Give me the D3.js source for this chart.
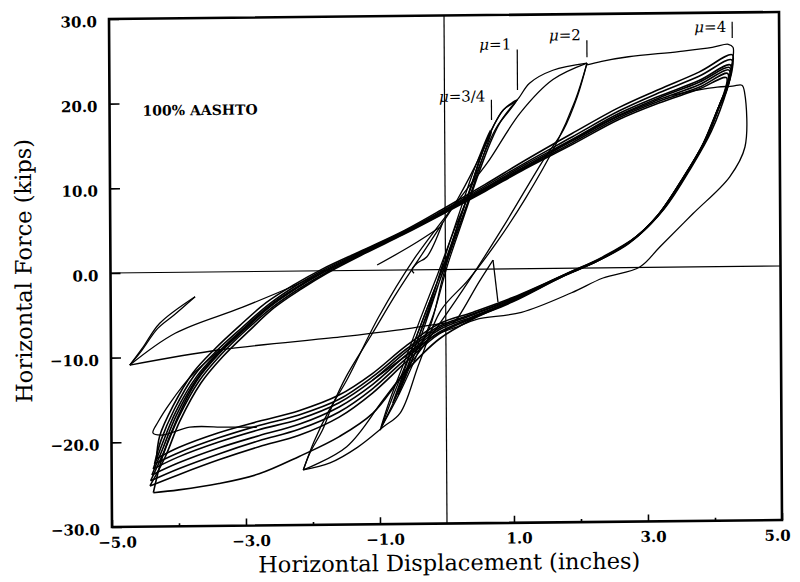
<!DOCTYPE html>
<html><head><meta charset="utf-8">
<script src="https://cdn.jsdelivr.net/npm/d3@7"></script>
<style>body{margin:0;background:#fff}svg{display:block}</style>
</head><body>
<svg id="chart" width="800" height="582"></svg>
<script>
// ---- axis / tick data ----
const xMajorTicks = [-5, -3, -1, 1, 3, 5];
const xTickLabels = ["\u22125.0", "\u22123.0", "\u22121.0", "1.0", "3.0", "5.0"];
const xMinorTicks = [-4, -2, 2, 4];
const yTicks = [30, 20, 10, 0, -10, -20, -30];
const yTickLabels = ["30.0", "20.0", "10.0", "0.0", "\u221210.0", "\u221220.0", "\u221230.0"];

// ---- ductility markers ----
const muNames = ["3/4", "1", "2", "4"];
const muX = [0.70, 1.09, 2.13, 4.30];
const muTop = [20.0, 25.9, 26.9, 28.9];
const muBottom = [17.6, 21.1, 24.9, 27.0];
const muLabelY = [20.4, 26.5, 27.5, 28.3];

// ---- main mu=4 cycles (displacement, force) ----
const loop1 = [[-4.33,-22.0],[-4.28,-19.3],[-4.08,-15.8],[-3.78,-11.9],[-3.45,-9.1],[-3.08,-6.4],[-2.68,-3.7],[-2.26,-1.6],[-1.84,0.2],[-1.2,2.5],[-0.6,4.7],[0,7.3],[0.6,10.0],[1.2,12.8],[1.9,15.9],[2.6,18.9],[3.2,21.0],[3.8,23.0],[4.30,25.0],[4.28,23.0],[4.22,21.0],[3.98,16.0],[3.68,11.8],[3.27,6.9],[2.86,3.7],[2.35,1.3],[1.85,-0.5],[1.0,-3.4],[0.4,-5.1],[-0.1,-6.4],[-0.6,-9.0],[-1.1,-12.2],[-1.6,-14.7],[-2.2,-16.5],[-2.8,-17.7],[-3.4,-19.0],[-4.0,-20.7],[-4.33,-22.0]];
const loop2 = [[-4.36,-22.6],[-4.26,-19.8],[-4.06,-16.2],[-3.76,-12.2],[-3.42,-9.3],[-3.04,-6.6],[-2.64,-3.9],[-2.23,-1.7],[-1.82,0.1],[-1.2,2.4],[-0.6,4.6],[0,7.1],[0.6,9.8],[1.2,12.5],[1.9,15.5],[2.6,18.5],[3.2,20.6],[3.8,22.5],[4.29,24.4],[4.24,21.5],[4.14,19.8],[3.92,15.3],[3.63,11.3],[3.23,6.6],[2.83,3.5],[2.32,1.1],[1.82,-0.6],[1.0,-3.5],[0.4,-5.3],[-0.1,-6.7],[-0.6,-9.4],[-1.1,-12.6],[-1.6,-15.2],[-2.2,-17.0],[-2.8,-18.2],[-3.4,-19.6],[-4.0,-21.3],[-4.36,-22.6]];
const loop3 = [[-4.38,-23.2],[-4.24,-20.2],[-4.04,-16.5],[-3.73,-12.4],[-3.4,-9.5],[-3.02,-6.7],[-2.62,-4.0],[-2.2,-1.8],[-1.8,0.0],[-1.2,2.3],[-0.6,4.5],[0,7.0],[0.6,9.6],[1.2,12.3],[1.9,15.2],[2.6,18.2],[3.2,20.2],[3.8,22.0],[4.27,23.8],[4.22,21.2],[4.12,19.4],[3.9,15.0],[3.6,11.0],[3.2,6.3],[2.8,3.3],[2.3,1.0],[1.8,-0.7],[1.0,-3.6],[0.4,-5.4],[-0.1,-6.9],[-0.6,-9.7],[-1.1,-13.0],[-1.6,-15.6],[-2.2,-17.5],[-2.8,-18.7],[-3.4,-20.1],[-4.0,-21.8],[-4.38,-23.2]];
const loop4 = [[-4.40,-23.9],[-4.23,-20.7],[-4.03,-16.9],[-3.72,-12.6],[-3.39,-9.6],[-3.01,-6.8],[-2.61,-4.1],[-2.2,-1.9],[-1.8,-0.1],[-1.2,2.2],[-0.6,4.4],[0,6.9],[0.6,9.5],[1.2,12.1],[1.9,15.0],[2.6,17.9],[3.2,19.8],[3.8,21.5],[4.25,23.2],[4.2,20.8],[4.1,19.0],[3.87,14.7],[3.57,10.7],[3.17,6.1],[2.77,3.1],[2.28,0.9],[1.78,-0.8],[1.0,-3.7],[0.4,-5.6],[-0.1,-7.1],[-0.6,-10.1],[-1.1,-13.5],[-1.6,-16.1],[-2.2,-18.1],[-2.8,-19.4],[-3.4,-20.8],[-4.0,-22.5],[-4.40,-23.9]];
const loop5 = [[-4.42,-24.6],[-4.22,-21.2],[-4.0,-17.2],[-3.69,-12.9],[-3.36,-9.8],[-2.98,-6.9],[-2.58,-4.2],[-2.17,-2.0],[-1.78,-0.2],[-1.2,2.1],[-0.62,4.3],[0,6.8],[0.6,9.3],[1.2,11.9],[1.9,14.8],[2.6,17.7],[3.2,19.6],[3.8,21.2],[4.23,22.8],[4.18,20.5],[4.08,18.6],[3.85,14.4],[3.55,10.5],[3.15,5.9],[2.75,3.0],[2.26,0.8],[1.76,-0.9],[1.0,-3.8],[0.4,-5.7],[-0.1,-7.4],[-0.6,-10.5],[-1.1,-14.0],[-1.6,-16.7],[-2.2,-18.7],[-2.8,-20.0],[-3.4,-21.5],[-4.0,-23.2],[-4.42,-24.6]];
const loop6 = [[-4.43,-25.2],[-4.2,-21.8],[-3.98,-17.6],[-3.66,-13.1],[-3.33,-10.0],[-2.95,-7.1],[-2.56,-4.3],[-2.15,-2.1],[-1.77,-0.3],[-1.2,2.0],[-0.62,4.2],[0,6.7],[0.6,9.2],[1.2,11.8],[1.9,14.6],[2.6,17.5],[3.2,19.4],[3.8,21.0],[4.21,22.3],[4.16,20.2],[4.06,18.3],[3.83,14.1],[3.53,10.2],[3.13,5.7],[2.73,2.8],[2.24,0.7],[1.74,-1.0],[1.0,-3.9],[0.4,-5.8],[-0.1,-7.6],[-0.6,-10.9],[-1.1,-14.5],[-1.6,-17.3],[-2.2,-19.4],[-2.8,-20.7],[-3.4,-22.2],[-4.0,-23.9],[-4.43,-25.2]];
const loop7 = [[-4.38,-26.0],[-4.25,-22.0],[-4.02,-17.3],[-3.72,-12.8],[-3.39,-9.7],[-3.01,-6.9],[-2.62,-4.1],[-2.2,-1.9],[-1.81,-0.1],[-1.2,2.2],[-0.6,4.4],[0,6.9],[0.6,9.4],[1.2,12.0],[1.9,15.1],[2.6,18.0],[3.2,20.0],[3.8,21.8],[4.26,23.5],[4.22,21.0],[4.12,19.2],[3.88,14.8],[3.58,10.8],[3.18,6.2],[2.78,3.2],[2.29,0.9],[1.79,-0.8],[1.0,-3.8],[0.4,-5.9],[-0.1,-8.2],[-0.6,-12.0],[-1.1,-16.9],[-1.6,-19.6],[-2.2,-21.9],[-2.8,-23.9],[-3.4,-25.0],[-4.0,-25.7],[-4.38,-26.0]];

// ---- first excursion to mu=4 and outer paths ----
const firstMu4 = [[2.13,24.0],[2.35,24.4],[2.75,24.9],[3.5,25.45],[4.0,25.9],[4.24,26.25],[4.31,25.9],[4.31,24.7],[4.28,23.5]];
const outerRight = [[3.4,20.3],[3.8,20.9],[4.07,21.2],[4.3,21.3],[4.44,21.4],[4.48,20.5],[4.48,14.1],[4.25,10.6],[3.7,6.3],[3.2,2.4],[2.9,0.06],[2.35,-1.2],[1.88,-2.9],[1.13,-5.15],[0.45,-5.95],[0.17,-6.8],[-0.15,-7.7],[-0.5,-9.6],[-1.1,-13.0]];
const outerLowLeft = [[-3.37,-9.2],[-3.82,-12.4],[-4.12,-15.4],[-4.3,-17.6],[-4.38,-18.95],[-4.23,-19.2],[-3.83,-18.3],[-3.3,-18.35],[-2.83,-18.4]];
const tipUpper = [[-1.8,0.0],[-2.07,-1.07],[-3.03,-4.2],[-4.04,-7.2],[-4.72,-10.9]];
const tipLower = [[-4.72,-10.9],[-3.37,-9.2],[-1.57,-7.84],[-0.73,-7.1],[0.0,-6.3]];
const needleUp = [[-4.72,-10.9],[-4.52,-8.8],[-4.27,-6.0],[-3.74,-2.9]];
const needleDown = [[-3.74,-2.9],[-4.05,-5.0],[-4.3,-6.6],[-4.55,-9.3],[-4.72,-10.9]];

// ---- mu=2 cycles ----
const mu2UnloadA = [[2.13,24.2],[1.98,20.2],[1.77,16.3],[1.47,12.8],[0.86,4.9],[0.26,-2.4],[-0.24,-8.0],[-0.94,-15.3],[-1.49,-20.8],[-2.14,-23.5]];
const mu2UnloadB = [[2.13,24.2],[1.95,19.8],[1.65,14.5],[1.2,8.3],[0.79,3.4],[0.34,-1.26],[-0.07,-4.8],[-0.4,-11.0],[-0.69,-16.9],[-0.94,-18.5],[-1.33,-20.9],[-1.74,-22.7],[-2.14,-23.5]];
const mu2ReloadA = [[-2.14,-23.5],[-2.04,-21.5],[-1.85,-18.8],[-1.71,-16.1],[-1.49,-12.5],[-1.1,-7.5],[-0.73,-2.7],[-0.08,5.0],[0.18,8.2],[0.57,14.05],[0.73,16.9],[0.88,18.8],[1.08,19.9],[1.27,21.9],[1.62,23.4],[2.13,24.2]];
const mu2ReloadB = [[-2.14,-23.5],[-1.98,-20.2],[-1.75,-16.5],[-1.48,-12.9],[-1.0,-5.5],[-0.48,1.16],[0.28,9.0],[0.63,12.5],[1.13,18.4],[1.62,22.3],[2.13,24.2]];

// ---- mu=1 and mu=3/4 cycles ----
const mu1A = [[-0.99,-18.9],[-0.85,-15.5],[-0.62,-10.8],[-0.38,-5.8],[-0.12,-0.6],[0.12,4.4],[0.35,8.8],[0.53,13.2],[0.73,16.9],[0.88,18.8],[1.08,19.9],[0.78,16.8],[0.63,14.4],[0.43,10.5],[0.2,5.5],[-0.04,-0.9],[-0.24,-6.8],[-0.49,-10.3],[-0.75,-15.0],[-0.99,-18.9]];
const mu1B = [[-0.97,-18.5],[-0.8,-15.0],[-0.56,-10.3],[-0.3,-5.0],[-0.05,0.0],[0.2,5.0],[0.42,9.6],[0.62,13.8],[0.82,17.2],[1.08,19.9],[0.85,17.6],[0.68,14.9],[0.5,11.2],[0.27,6.0],[0.03,0.5],[-0.18,-5.2],[-0.42,-9.8],[-0.7,-14.6],[-0.97,-18.5]];
const mu34A = [[-0.8,-15.7],[-0.62,-11.8],[-0.42,-7.5],[-0.2,-3.0],[0.02,1.5],[0.22,6.0],[0.42,10.5],[0.56,13.8],[0.68,16.4],[0.56,14.2],[0.4,11.0],[0.2,6.4],[-0.02,1.2],[-0.22,-3.8],[-0.44,-8.6],[-0.62,-12.3],[-0.8,-15.7]];
const mu34B = [[-0.72,-14.8],[-0.55,-11.0],[-0.34,-6.6],[-0.12,-2.0],[0.1,2.6],[0.3,7.0],[0.48,11.2],[0.6,14.0],[0.7,16.2],[0.6,14.6],[0.47,11.8],[0.28,7.3],[0.06,2.2],[-0.15,-2.8],[-0.36,-7.6],[-0.55,-11.6],[-0.72,-14.8]];

// ---- small features near the origin ----
const hook = [[-0.04,5.5],[-0.28,1.5],[-0.42,0.8],[-0.5,0.0],[-0.47,-0.4]];
const shortLine = [[-1.02,0.61],[-0.5,2.9],[-0.08,5.0]];
const spikeUp = [[0.1,-6.4],[0.19,-5.6],[0.5,-1.5],[0.71,1.06]];
const spikeDown = [[0.71,1.06],[0.78,-3.9]];

const bundle = [loop1, loop2, loop3, loop4, loop5, loop6, loop7];
const smoothCurves = [firstMu4, outerRight, outerLowLeft, tipUpper, tipLower, needleUp, needleDown,
  mu2UnloadA, mu2UnloadB, mu2ReloadA, mu2ReloadB, mu1A, mu1B, mu34A, mu34B, hook, shortLine, spikeUp];
const sharpCurves = [spikeDown];

// ---- drawing ----
const svg = d3.select("#chart");
const g = svg.append("g").attr("transform", "matrix(1,-0.01045,0.0059,1,-0.11,1.14)");
const x = d3.scaleLinear().domain([-5, 5]).range([109, 779]);
const y = d3.scaleLinear().domain([-30, 30]).range([527, 19]);
const serif = "'DejaVu Serif', serif";

// zero lines
g.append("line").attr("x1", x(-5)).attr("x2", x(5)).attr("y1", y(0)).attr("y2", y(0))
  .attr("stroke", "#000").attr("stroke-width", 1.2);
g.append("line").attr("x1", x(0)).attr("x2", x(0)).attr("y1", y(30)).attr("y2", y(-30))
  .attr("stroke", "#000").attr("stroke-width", 1.2);

const smooth = d3.line().x(d => x(d[0])).y(d => y(d[1])).curve(d3.curveCatmullRom.alpha(0.5));
const straight = d3.line().x(d => x(d[0])).y(d => y(d[1]));

g.append("g").selectAll("path").data(bundle).join("path")
  .attr("d", smooth).attr("fill", "none").attr("stroke", "#000").attr("stroke-width", 1.6)
  .attr("stroke-linejoin", "round");
g.append("g").selectAll("path").data(smoothCurves).join("path")
  .attr("d", smooth).attr("fill", "none").attr("stroke", "#000").attr("stroke-width", 1.3)
  .attr("stroke-linejoin", "round");
g.append("g").selectAll("path").data(sharpCurves).join("path")
  .attr("d", straight).attr("fill", "none").attr("stroke", "#000").attr("stroke-width", 1.3);

// axes
const yAxis = d3.axisLeft(y).tickValues(yTicks).tickSize(-10).tickPadding(12)
  .tickFormat((d, i) => yTickLabels[i]);
const ya = g.append("g").attr("transform", `translate(${x(-5)},0)`).call(yAxis);
const xAxis = d3.axisBottom(x).tickValues(xMajorTicks).tickSize(-7).tickPadding(10)
  .tickFormat((d, i) => xTickLabels[i]);
const xa = g.append("g").attr("transform", `translate(0,${y(-30)})`).call(xAxis);
const xMinor = d3.axisBottom(x).tickValues(xMinorTicks).tickSize(-3).tickFormat("");
const xm = g.append("g").attr("transform", `translate(0,${y(-30)})`).call(xMinor);
[ya, xa, xm].forEach(a => {
  a.select(".domain").remove();
  a.selectAll(".tick line").attr("stroke", "#000").attr("stroke-width", 1.6);
  a.selectAll("text").attr("font-family", serif).attr("font-size", 15)
    .attr("font-weight", "bold").attr("fill", "#000");
});
ya.selectAll("text").attr("dy", "0.5em");
xa.selectAll("text").attr("dx", (d, i) => i === xMajorTicks.length - 1 ? -5 : 5);

// frame
g.append("rect").attr("x", x(-5)).attr("y", y(30)).attr("width", x(5) - x(-5)).attr("height", y(-30) - y(30))
  .attr("fill", "none").attr("stroke", "#000").attr("stroke-width", 2.6);

// axis titles
g.append("text").attr("x", 446).attr("y", 574).attr("text-anchor", "middle")
  .attr("font-family", serif).attr("font-size", 22.5).text("Horizontal Displacement (inches)");
g.append("text").attr("transform", "translate(30,270) rotate(-90)").attr("text-anchor", "middle")
  .attr("font-family", serif).attr("font-size", 22.5).text("Horizontal Force (kips)");

// annotation
g.append("text").attr("x", 142).attr("y", 116).attr("font-family", serif).attr("font-size", 14)
  .attr("font-weight", "bold").text("100% AASHTO");

// mu markers
muNames.forEach((name, i) => {
  g.append("line").attr("x1", x(muX[i])).attr("x2", x(muX[i]))
    .attr("y1", y(muTop[i])).attr("y2", y(muBottom[i])).attr("stroke", "#000").attr("stroke-width", 1.2);
  const t = g.append("text").attr("x", x(muX[i]) - 6).attr("y", y(muLabelY[i]) + 5)
    .attr("text-anchor", "end").attr("font-family", serif).attr("font-size", 15);
  t.append("tspan").attr("font-style", "italic").text("\u03bc");
  t.append("tspan").text("=" + name);
});
</script>
</body></html>
